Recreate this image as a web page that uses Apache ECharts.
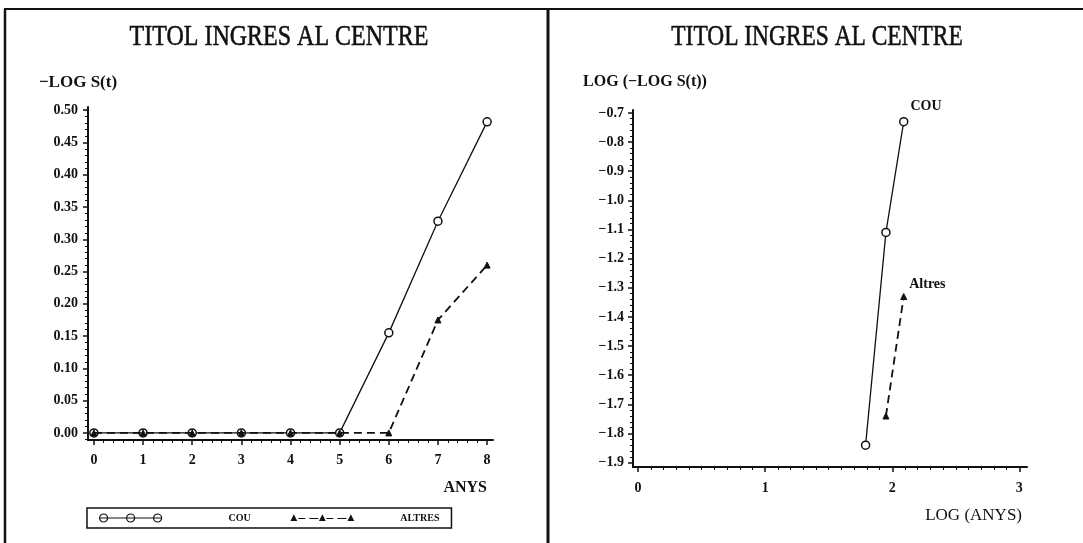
<!DOCTYPE html>
<html>
<head>
<meta charset="utf-8">
<script src="https://cdn.jsdelivr.net/npm/echarts@6/dist/echarts.min.js"></script>
<style>
  html, body { margin: 0; padding: 0; background: #fff; }
  #chart { width: 1083px; height: 543px; }
</style>
</head>
<body>
<div id="chart"></div>
<script>
// -LOG S(t) per year since entry
const years = [0, 1, 2, 3, 4, 5, 6, 7, 8];
const couValues = [0, 0, 0, 0, 0, 0, 0.155, 0.328, 0.482];
const altresValues = [0, 0, 0, 0, 0, 0, 0, 0.175, 0.26];

// LOG(-LOG S(t)) against LOG(ANYS)
const couLogYears = [1.79, 1.95, 2.09];
const couLogValues = [-1.84, -1.11, -0.73];
const altresLogYears = [1.95, 2.09];
const altresLogValues = [-1.74, -1.33];

// tick labels
const leftXTicks = [0, 1, 2, 3, 4, 5, 6, 7, 8];
const leftYTicks = [0, 0.05, 0.1, 0.15, 0.2, 0.25, 0.3, 0.35, 0.4, 0.45, 0.5];
const rightXTicks = [0, 1, 2, 3];
const rightYTicks = [-1.9, -1.8, -1.7, -1.6, -1.5, -1.4, -1.3, -1.2, -1.1, -1.0, -0.9, -0.8, -0.7];

const SERIF = '"Liberation Serif", "DejaVu Serif", serif';
const INK = '#111';

// legend keys: three open circles on a solid line / three arrowheads on a dashed line
const COU_KEY = 'path://M0 4 L62 4 M8 4 A4 4 0 1 1 0 4 A4 4 0 1 1 8 4 M35 4 A4 4 0 1 1 27 4 A4 4 0 1 1 35 4 M62 4 A4 4 0 1 1 54 4 A4 4 0 1 1 62 4';
const ALTRES_KEY = 'path://M2.5 0 L5 5 L0 5 Z M31 0 L33.5 5 L28.5 5 Z M59.5 0 L62 5 L57 5 Z M7 3 L14 3 M18 3 L27 3 M35 3 L42 3 M46 3 L55 3';

const pairs = (xs, ys) => xs.map((x, i) => [x, ys[i]]);
const minus = (v, d) => (v < 0 ? '\u2212' : '') + Math.abs(v).toFixed(d);

function withEndLabel(points, text, offset) {
  return points.map((p, i) => i < points.length - 1 ? p : {
    value: p,
    label: {
      show: true, position: 'right', distance: 2, offset: offset,
      formatter: text, color: INK, fontFamily: SERIF, fontWeight: 'bold', fontSize: 14
    }
  });
}

function valueAxis(gridIndex, min, max, split, ticks, extra) {
  return Object.assign({
    type: 'value', gridIndex: gridIndex, min: min, max: max, splitNumber: split,
    axisLine: { show: true, onZero: false, lineStyle: { color: INK, width: 2 } },
    axisTick: { show: true, customValues: ticks, length: 5, lineStyle: { color: INK, width: 1.5 } },
    minorTick: { show: true, splitNumber: 5, length: 3, lineStyle: { color: INK, width: 1 } },
    splitLine: { show: false }
  }, extra);
}

const labelFont = { color: INK, fontFamily: SERIF, fontWeight: 'bold', fontSize: 14 };

const chart = echarts.init(document.getElementById('chart'), null, { renderer: 'canvas' });

chart.setOption({
  animation: false,
  backgroundColor: '#fff',
  graphic: [
    { type: 'line', shape: { x1: 4, y1: 9, x2: 1083, y2: 9 }, style: { stroke: INK, lineWidth: 2 } },
    { type: 'line', shape: { x1: 5, y1: 9, x2: 5, y2: 543 }, style: { stroke: INK, lineWidth: 2.5 } },
    { type: 'line', shape: { x1: 548, y1: 9, x2: 548, y2: 543 }, style: { stroke: INK, lineWidth: 3 } },
    {
      type: 'text', x: 279, y: 37, scaleX: 0.8,
      style: { text: 'TITOL INGRES AL CENTRE', font: '30px ' + SERIF, fill: INK, stroke: INK, lineWidth: 0.6,
        align: 'center', verticalAlign: 'middle' }
    },
    {
      type: 'text', x: 817, y: 37, scaleX: 0.78,
      style: { text: 'TITOL INGRES AL CENTRE', font: '30px ' + SERIF, fill: INK, stroke: INK, lineWidth: 0.6,
        align: 'center', verticalAlign: 'middle' }
    }
  ],
  legend: {
    data: [
      { name: 'COU', icon: COU_KEY, itemStyle: { color: '#fff', borderColor: INK, borderWidth: 1.2 },
        textStyle: { padding: [0, 0, 0, 62] } },
      { name: 'ALTRES', icon: ALTRES_KEY, itemStyle: { color: INK, borderColor: INK, borderWidth: 1.1 },
        textStyle: { padding: [0, 0, 0, 42] } }
    ],
    left: 87, top: 508,
    itemWidth: 62, itemHeight: 8, itemGap: 40,
    symbolKeepAspect: true,
    padding: [5, 12, 5, 12],
    borderColor: INK, borderWidth: 1.5, borderRadius: 0,
    textStyle: { color: INK, fontFamily: SERIF, fontWeight: 'bold', fontSize: 10 }
  },
  grid: [
    { left: 88, right: 590, top: 107, bottom: 103 },
    { left: 633, right: 56, top: 110, bottom: 76 }
  ],
  xAxis: [
    valueAxis(0, -0.12, 8.12, 8, leftXTicks, {
      minorTick: { show: true, splitNumber: 5, length: 3, lineStyle: { color: INK, width: 1 } },
      axisLabel: Object.assign({ customValues: leftXTicks, margin: 13 }, labelFont),
      name: 'ANYS', nameLocation: 'end', nameGap: -6,
      nameTextStyle: { color: INK, fontFamily: SERIF, fontWeight: 'bold', fontSize: 16, align: 'right', verticalAlign: 'top', padding: [40, 0, 0, 0] }
    }),
    valueAxis(1, -0.04, 3.06, 3, rightXTicks, {
      minorTick: { show: true, splitNumber: 10, length: 3, lineStyle: { color: INK, width: 1 } },
      axisLabel: Object.assign({ customValues: rightXTicks, margin: 14 }, labelFont),
      name: 'LOG (ANYS)', nameLocation: 'end', nameGap: -5,
      nameTextStyle: { color: INK, fontFamily: SERIF, fontSize: 17, align: 'right', verticalAlign: 'top', padding: [40, 0, 0, 0] }
    })
  ],
  yAxis: [
    valueAxis(0, -0.011, 0.505, 10, leftYTicks, {
      axisLabel: Object.assign({ customValues: leftYTicks, formatter: v => v.toFixed(2), margin: 10 }, labelFont),
      name: '\u2212LOG S(t)', nameLocation: 'end', nameGap: 16,
      nameTextStyle: { color: INK, fontFamily: SERIF, fontWeight: 'bold', fontSize: 17, align: 'center', padding: [0, 20, 0, 0] }
    }),
    valueAxis(1, -1.915, -0.69, 12, rightYTicks, {
      axisLabel: Object.assign({ customValues: rightYTicks, formatter: v => minus(v, 1), margin: 9 }, labelFont),
      name: 'LOG (\u2212LOG S(t))', nameLocation: 'end', nameGap: 20,
      nameTextStyle: { color: INK, fontFamily: SERIF, fontWeight: 'bold', fontSize: 16, align: 'center', padding: [0, 0, 0, 24] }
    })
  ],
  series: [
    {
      name: 'COU', type: 'line', xAxisIndex: 0, yAxisIndex: 0,
      data: pairs(years, couValues),
      symbol: 'circle', symbolSize: 8, showAllSymbol: true,
      itemStyle: { color: '#fff', borderColor: INK, borderWidth: 1.5 },
      lineStyle: { color: INK, width: 1.3 },
      z: 2
    },
    {
      name: 'ALTRES', type: 'line', xAxisIndex: 0, yAxisIndex: 0,
      data: pairs(years, altresValues),
      symbol: 'triangle', symbolSize: 6, showAllSymbol: true,
      itemStyle: { color: INK, borderColor: INK },
      lineStyle: { color: INK, width: 1.8, type: [8, 5] },
      z: 3
    },
    {
      name: 'COU', type: 'line', xAxisIndex: 1, yAxisIndex: 1,
      data: withEndLabel(pairs(couLogYears, couLogValues), 'COU', [0, -15]),
      symbol: 'circle', symbolSize: 8, showAllSymbol: true,
      itemStyle: { color: '#fff', borderColor: INK, borderWidth: 1.5 },
      lineStyle: { color: INK, width: 1.3 }
    },
    {
      name: 'Altres', type: 'line', xAxisIndex: 1, yAxisIndex: 1,
      data: withEndLabel(pairs(altresLogYears, altresLogValues), 'Altres', [0, -12]),
      symbol: 'triangle', symbolSize: 6, showAllSymbol: true,
      itemStyle: { color: INK, borderColor: INK },
      lineStyle: { color: INK, width: 1.8, type: [8, 5] }
    }
  ]
});
</script>
</body>
</html>
